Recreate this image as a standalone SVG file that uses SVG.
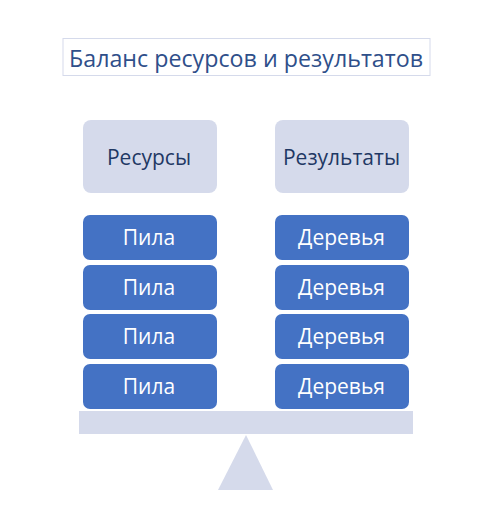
<svg xmlns="http://www.w3.org/2000/svg" width="500" height="522" viewBox="0 0 500 522">
<style>
.t{font-family:"Open Sans","Liberation Sans",sans-serif;text-anchor:middle;}
.hdr{fill:#D5DAEB;}
.hdrt{fill:#1F3864;font-size:21px;}
.blk{fill:#4472C4;}
.blkt{fill:#FFFFFF;font-size:21px;}
.base{fill:#D5DAEB;}
</style>
<rect width="500" height="522" fill="#FFFFFF"/>
<g id="title">
<rect x="63" y="38.5" width="367" height="37" fill="#FFFFFF" stroke="#D5DAEB" stroke-width="1"/>
<text class="t" x="246" y="67" font-size="24" fill="#2F4F8A" textLength="354" lengthAdjust="spacingAndGlyphs">Баланс ресурсов и результатов</text>
</g>
<g id="resources">
<rect class="hdr" x="83" y="120" width="134" height="73" rx="8"/>
<text class="t hdrt" x="149" y="165">Ресурсы</text>
</g>
<g id="results">
<rect class="hdr" x="275" y="120" width="134" height="73" rx="8"/>
<text class="t hdrt" x="341.5" y="165">Результаты</text>
</g>
<g id="saw1"><rect class="blk" x="83" y="215" width="134" height="45" rx="7"/><text class="t blkt" x="149" y="245">Пила</text></g>
<g id="saw2"><rect class="blk" x="83" y="265" width="134" height="45" rx="7"/><text class="t blkt" x="149" y="295">Пила</text></g>
<g id="saw3"><rect class="blk" x="83" y="314" width="134" height="45" rx="7"/><text class="t blkt" x="149" y="344">Пила</text></g>
<g id="saw4"><rect class="blk" x="83" y="364" width="134" height="45" rx="7"/><text class="t blkt" x="149" y="394">Пила</text></g>
<g id="tree1"><rect class="blk" x="275" y="215" width="134" height="45" rx="7"/><text class="t blkt" x="341.5" y="245">Деревья</text></g>
<g id="tree2"><rect class="blk" x="275" y="265" width="134" height="45" rx="7"/><text class="t blkt" x="341.5" y="295">Деревья</text></g>
<g id="tree3"><rect class="blk" x="275" y="314" width="134" height="45" rx="7"/><text class="t blkt" x="341.5" y="344">Деревья</text></g>
<g id="tree4"><rect class="blk" x="275" y="364" width="134" height="45" rx="7"/><text class="t blkt" x="341.5" y="394">Деревья</text></g>
<g id="beam"><rect class="base" x="79" y="411" width="334" height="23"/></g>
<g id="fulcrum"><polygon class="base" points="246,435 273,490 218,490"/></g>
<g id="connectors"></g>
</svg>
